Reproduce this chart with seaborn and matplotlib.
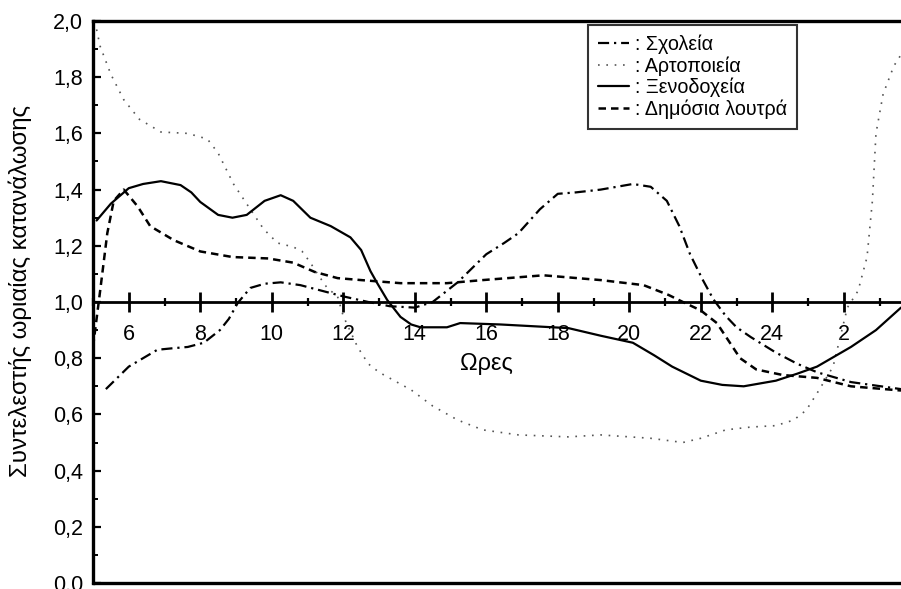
import matplotlib
matplotlib.use("Agg")
import matplotlib.pyplot as plt
import seaborn as sns
import numpy as np

# ---------------- data ----------------
school_x = [5.36, 6.0, 6.4, 6.8, 7.2, 7.65, 8.1, 8.55, 8.8, 9.05, 9.4, 9.8, 10.25, 10.8, 11.4, 12.0, 12.7,
            13.3, 14.0, 14.5, 14.9, 15.2, 15.6, 16.0, 16.5, 16.9, 17.5, 18.0, 18.5, 19.2, 20.1, 20.6, 21.05,
            21.4, 21.7, 22.05, 22.35, 22.7, 23.0, 23.4, 24.1, 24.7, 25.25, 26.2, 27.6]
school_y = [0.69, 0.77, 0.80, 0.83, 0.835, 0.84, 0.855, 0.90, 0.94, 0.997, 1.05, 1.065, 1.07, 1.06, 1.04, 1.02, 1.0,
            0.985, 0.98, 1.0, 1.04, 1.07, 1.12, 1.17, 1.21, 1.245, 1.33, 1.385, 1.39, 1.40, 1.42, 1.41, 1.36,
            1.27, 1.17, 1.08, 1.01, 0.95, 0.91, 0.875, 0.82, 0.78, 0.75, 0.715, 0.69]

bakery_x = [5.1, 5.2, 5.5, 5.86, 6.3, 6.9, 7.65, 8.2, 8.5, 8.93, 9.4, 9.77, 10.16, 10.6, 10.85,
            11.08, 11.3, 11.55, 11.84, 12.0, 12.4, 12.7, 13.0, 13.5, 13.9, 14.5, 15.2, 15.9,
            16.9, 18.3, 19.2, 20.6, 21.5, 22.0, 22.7, 23.4, 24.1, 24.6, 24.95, 25.3, 25.7,
            26.1, 26.4, 26.65, 26.8, 26.9, 27.1, 27.4, 27.6]
bakery_y = [1.97, 1.91, 1.81, 1.72, 1.65, 1.605, 1.60, 1.58, 1.53, 1.42, 1.33, 1.26, 1.21, 1.196, 1.18,
            1.14, 1.096, 1.05, 1.02, 0.95, 0.84, 0.78, 0.75, 0.715, 0.687, 0.63, 0.58, 0.545,
            0.527, 0.52, 0.527, 0.515, 0.50, 0.515, 0.545, 0.555, 0.56, 0.58, 0.615, 0.685, 0.77,
            0.98, 1.04, 1.16, 1.36, 1.60, 1.74, 1.84, 1.88]

hotel_x = [5.1, 5.5, 6.0, 6.4, 6.9, 7.45, 7.75, 8.0, 8.5, 8.9, 9.3, 9.8, 10.25, 10.6, 11.08, 11.65, 12.2, 12.5,
           12.76, 12.95, 13.23, 13.6, 13.9, 14.16, 14.9, 15.27, 16.4, 18.3, 19.2, 20.1, 20.7, 21.2, 22.0,
           22.6, 23.2, 24.1, 24.7, 25.25, 26.2, 26.9, 27.6]
hotel_y = [1.29, 1.35, 1.405, 1.42, 1.43, 1.416, 1.39, 1.356, 1.31, 1.30, 1.31, 1.36, 1.38, 1.36, 1.30, 1.27, 1.23, 1.185,
           1.11, 1.067, 1.007, 0.947, 0.92, 0.91, 0.91, 0.925, 0.92, 0.907, 0.88, 0.855, 0.81, 0.77, 0.72,
           0.705, 0.70, 0.72, 0.745, 0.77, 0.84, 0.90, 0.98]

baths_x = [5.0, 5.2, 5.4, 5.58, 5.86, 6.25, 6.6, 7.26, 8.0, 8.9, 9.9, 10.6, 11.2, 11.84, 12.5,
           13.6, 14.9, 15.9, 17.6, 19.2, 20.4, 21.1, 21.5, 22.0, 22.45, 23.1, 23.55, 24.3,
           25.25, 26.2, 27.6]
baths_y = [0.84, 1.04, 1.245, 1.36, 1.40, 1.34, 1.27, 1.22, 1.18, 1.16, 1.155, 1.14, 1.107, 1.085, 1.078,
           1.067, 1.067, 1.078, 1.095, 1.078, 1.06, 1.025, 1.0, 0.97, 0.925, 0.80, 0.76, 0.74,
           0.73, 0.70, 0.685]

series_labels = [": Σχολεία", ": Αρτοποιεία", ": Ξενοδοχεία", ": Δημόσια λουτρά"]
x_tick_pos = [6, 8, 10, 12, 14, 16, 18, 20, 22, 24, 26]
x_tick_labels = ["6", "8", "10", "12", "14", "16", "18", "20", "22", "24", "2"]
y_tick_pos = [0.0, 0.2, 0.4, 0.6, 0.8, 1.0, 1.2, 1.4, 1.6, 1.8, 2.0]
y_tick_labels = ["0.0", "0,2", "0,4", "0,6", "0,8", "1,0", "1,2", "1,4", "1,6", "1,8", "2,0"]

# ---------------- figure ----------------
sns.set_theme(style="white")
plt.rcParams["font.family"] = ["Liberation Sans", "DejaVu Sans"]

fig = plt.figure(figsize=(9.01, 5.89), dpi=100)
W, H = 901, 589
ax = fig.add_axes([93 / W, (H - 583) / H, (W - 93) / W, (583 - 21) / H])

sns.lineplot(x=school_x, y=school_y, ax=ax, color="black", lw=1.6, sort=False,
             linestyle=(0, (5, 2.2, 1, 2.2)), label=series_labels[0])
sns.lineplot(x=bakery_x, y=bakery_y, ax=ax, color="#555555", lw=1.2, sort=False,
             linestyle=(0, (1, 4)), label=series_labels[1])
sns.lineplot(x=hotel_x, y=hotel_y, ax=ax, color="black", lw=1.6, sort=False,
             linestyle="-", label=series_labels[2])
sns.lineplot(x=baths_x, y=baths_y, ax=ax, color="black", lw=1.8, sort=False,
             linestyle=(0, (3, 2)), label=series_labels[3])

ax.set_xlim(5.02, 27.6)
ax.set_ylim(0, 2.0)

# spines
for s in ["left", "top"]:
    ax.spines[s].set_linewidth(2.4)
    ax.spines[s].set_color("black")
ax.spines["right"].set_visible(False)
ax.spines["bottom"].set_position(("data", 1.0))
ax.spines["bottom"].set_linewidth(2.0)
ax.spines["bottom"].set_color("black")
ax.axhline(0, color="black", lw=2.4, clip_on=False, zorder=5)

# ticks
ax.set_xticks(x_tick_pos)
ax.set_xticklabels(x_tick_labels)
ax.set_xticks(np.arange(5, 28, 1), minor=True)
ax.set_yticks(y_tick_pos)
ax.set_yticklabels(y_tick_labels)
ax.set_yticks(np.arange(0.1, 2.0, 0.2), minor=True)

ax.tick_params(axis="x", which="major", direction="inout", length=14, width=2.0,
               labelsize=15.5, pad=9, bottom=True, top=False, colors="black")
ax.tick_params(axis="x", which="minor", direction="inout", length=6, width=1.6,
               bottom=True, top=False, colors="black")
ax.tick_params(axis="y", which="major", direction="in", length=6, width=1.6,
               labelsize=15.5, pad=7, left=True, right=False, colors="black")
ax.tick_params(axis="y", which="minor", direction="in", length=3.5, width=1.4,
               left=True, right=False, colors="black")
for lbl in ax.get_xticklabels() + ax.get_yticklabels():
    lbl.set_color("black")

ax.set_xlabel("")
ax.set_ylabel("")
ax.text(16.0, 0.78, "Ωρες", ha="center", va="center", fontsize=17, color="black")
fig.text(20 / W, (H - 291) / H, "Συντελεστής ωριαίας κατανάλωσης", rotation=90,
         ha="center", va="center", fontsize=17.3, color="black")

ax.grid(False)
leg = ax.legend(loc="upper left", bbox_to_anchor=((588 - 93) / (W - 93), (583 - 25) / (583 - 21)),
                frameon=True, fancybox=False, fontsize=14.2, handlelength=1.6,
                handletextpad=0.3, labelspacing=0.1, borderpad=0.5, borderaxespad=0)
leg.get_frame().set_edgecolor("black")
leg.get_frame().set_linewidth(1.5)
for t in leg.get_texts():
    t.set_color("black")

fig.savefig("out.png", dpi=100, facecolor="white")
